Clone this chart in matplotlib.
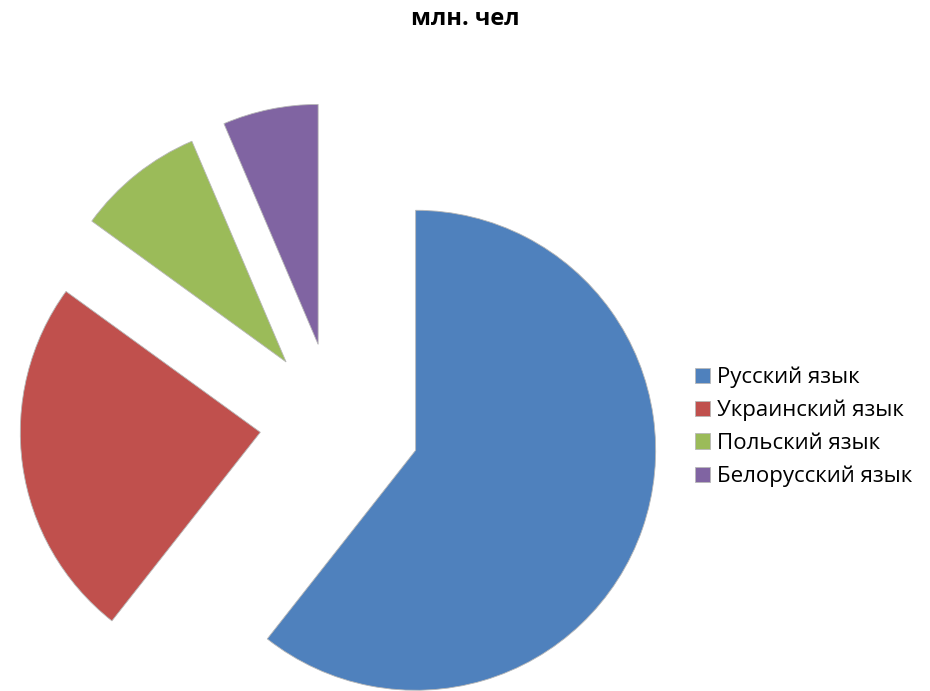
import matplotlib
matplotlib.use("Agg")
import matplotlib.pyplot as plt

plt.rcParams['font.family'] = ['Open Sans', 'DejaVu Sans']

# данные (млн. чел)
labels = ["Русский язык", "Украинский язык", "Польский язык", "Белорусский язык"]
values = [55.7, 22.4, 7.9, 5.9]
colors = ["#4F81BD", "#C0504D", "#9BBB59", "#8064A2"]
explode = [0.36, 0.31, 0.32, 0.33]

W, H = 930, 691
fig = plt.figure(figsize=(W / 100, H / 100), dpi=100)
ax = fig.add_axes([0, 0, 1, 1])

wedges, _ = ax.pie(values, colors=colors, explode=explode, startangle=90,
                   counterclock=False, radius=1,
                   wedgeprops=dict(edgecolor='#b8b8b8', linewidth=0.6))

# центр круга и радиус в пикселях (pie сбрасывает пределы, поэтому после)
cx, cy, R = 334, 269, 240
ax.set_xlim(-cx / R, (W - cx) / R)
ax.set_ylim(-cy / R, (H - cy) / R)
ax.set_aspect('equal')
ax.axis('off')

fig.text(0.5, 1 - 19 / H, "млн. чел", ha='center', va='center',
         fontsize=17, fontweight='bold')

fig.legend(wedges, labels, loc='center left',
           bbox_to_anchor=(686 / W, 1 - 427 / H),
           frameon=False, fontsize=16, handlelength=0.7, handleheight=0.7,
           handletextpad=0.3, labelspacing=0.52, borderaxespad=0)

fig.savefig("out.png", dpi=100)
